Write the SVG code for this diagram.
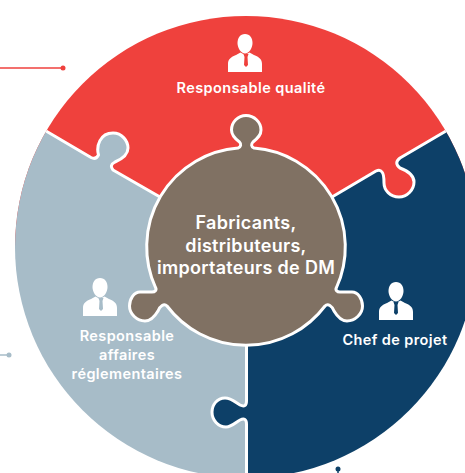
<svg xmlns="http://www.w3.org/2000/svg" width="465" height="473" viewBox="0 0 465 473">
<style>
.seg{stroke:#fff;stroke-width:3;stroke-linejoin:round}
text{font-family:"Inter","Liberation Sans",sans-serif;fill:#fff;text-anchor:middle;font-weight:600}
.lab{font-size:14.5px;letter-spacing:.4px}
.mid{font-size:18px;letter-spacing:.3px}
</style>
<defs>
<clipPath id="disc"><circle cx="246" cy="247" r="231"/></clipPath>
<g id="person">
<path fill="#fff" d="M17,0C22,0 24.500,4 24.500,9C24.500,14 21,19.500 17,19.500C13,19.500 9.500,14 9.500,9C9.500,4 12,0 17,0Z"/>
<path fill="#fff" d="M0,38L0,30C0,25 3,23 8,21L12.500,18.500L17,21L21.500,18.500L26,21C31,23 34,25 34,30L34,38Z"/>
</g>
</defs>
<g id="connectors" fill="none">
<path d="M0,68H63" stroke="#EF413D" stroke-width="1.5"/><circle cx="63" cy="68" r="2.500" fill="#EF413D"/>
<path d="M0,355H9" stroke="#A7BCC8" stroke-width="1.5"/><circle cx="9" cy="355" r="2.500" fill="#A7BCC8"/>
<path d="M338,469V473" stroke="#0D4068" stroke-width="1.5"/><circle cx="338" cy="469" r="2.500" fill="#0D4068"/>
</g>
<g id="node-qualite">
<g clip-path="url(#disc)">
<path fill="#EF413D" d="M15,16H477V247H15Z"/>
</g>
</g>
<g id="node-affaires" clip-path="url(#disc)">
<path class="seg" fill="#A7BCC8" d="M-10,98.500L46,131L91,157.500Q96,160 98.500,155C96,146 100,133 113,133C122,133 128,141 128,148C128,155 122,159 115,162Q109,165 113,170L160,197L246.500,300V500H-10Z"/>
</g>
<g id="node-projet" clip-path="url(#disc)">
<path class="seg" fill="#0D4068" d="M502,98.500L446,131L400,158Q393.500,163 400,168C408,171 414,175 414,182C414,190 407,197 399,197C390,197 384,190 384,183C384,178 384,174 382,172Q380,169 376,171L332,197L246.500,300V401Q246.500,408 240,405C235,402 231,398 225,398C217,398 212,405 212,412C212,420 218,427 226,427C232,427 236,422 240,420Q246.500,417 246.500,424V500H502Z"/>
</g>
<g id="node-centre">
<path class="seg" fill="#807163" d="M238,148C241,147 241.500,144 239.500,142C234,138 231.500,135 231.500,130C231.500,122 238,115.500 246,115.500C254,115.500 261,122 261,130C261,135 258,138 253,142C251,144 251,147 254,148A99,99 0 0 1 336.500,287.500C335,290 337,292 340,292C345,292 349,292 352,292C358,292 362.500,299 362.500,306C362.500,314 355,321 347,321C341,321 337,316 334,311C332,306 328,303 325,306A99,99 0 0 1 167,306C164,303 160,306 158,311C155,316 151,321 145,321C137,321 129.500,314 129.500,306C129.500,299 134,292 140,292C143,292 147,292 152,292C155,292 157,290 155.500,287.500A99,99 0 0 1 238,148Z"/>
<text class="mid" x="246" y="229">Fabricants,</text>
<text class="mid" x="246" y="252">distributeurs,</text>
<text class="mid" x="246" y="274">importateurs de DM</text>
</g>
<g id="label-qualite">
<use href="#person" x="228" y="34"/>
<path d="M243.500,54H248.500L247.500,57L248,65L246,67L244,65L244.500,57Z" fill="#EF413D"/>
<text class="lab" x="251" y="93">Responsable qualité</text>
</g>
<g id="label-affaires">
<use href="#person" x="83" y="278"/>
<path d="M98.500,298H103.500L102.500,301L103,309L101,311L99,309L99.500,301Z" fill="#A7BCC8"/>
<text class="lab" x="127" y="341">Responsable</text>
<text class="lab" x="127" y="360">affaires</text>
<text class="lab" x="127" y="379">réglementaires</text>
</g>
<g id="label-projet">
<use href="#person" x="379" y="282"/>
<path d="M393.500,302H398.500L397.500,305L398,313L396,315L394,313L394.500,305Z" fill="#0D4068"/>
<text class="lab" x="395" y="345">Chef de projet</text>
</g>
</svg>
